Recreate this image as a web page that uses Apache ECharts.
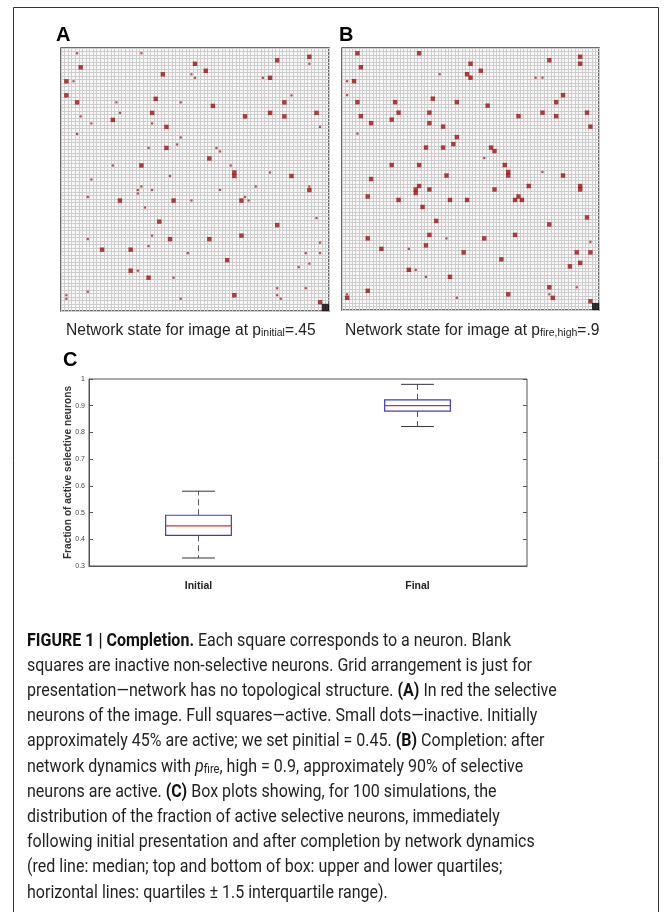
<!DOCTYPE html>
<html><head><meta charset="utf-8">
<script src="https://cdn.jsdelivr.net/npm/echarts@6/dist/echarts.min.js"></script>
<style>html,body{margin:0;padding:0;background:#fff}#c{width:671px;height:912px}</style>
</head><body><div id="c"></div>
<script>
// ---------------- DATA ----------------
const gridSize = 75; // cells per side in panels A and B
// Panel A (initial): [column, row] of selective neurons (row counted from top)
const activeA = [[5,5],[37,4],[40,6],[28,7],[60,3],[69,2],[58,8],[1,9],[1,13],[4,15],[26,14],[42,16],[62,15],[25,18],[14,20],[51,19],[58,18],[62,19],[71,18],[29,22],[29,28],[41,31],[22,33],[48,35],[48,36],[64,36],[69,40],[16,43],[31,43],[50,43],[27,49],[60,50],[50,53],[30,54],[41,54],[11,57],[19,57],[46,60],[19,63],[24,65],[48,70],[72,72]];
const inactiveA = [[4,1],[22,1],[69,4],[36,7],[37,8],[3,9],[56,8],[64,13],[15,15],[33,15],[16,18],[5,19],[8,21],[25,21],[72,22],[4,24],[33,25],[32,27],[24,28],[43,28],[44,29],[14,33],[47,33],[58,35],[30,36],[8,37],[54,39],[69,39],[22,39],[21,40],[25,40],[44,40],[21,41],[7,42],[51,42],[36,43],[52,43],[23,45],[71,48],[25,53],[7,54],[72,55],[24,56],[35,58],[68,58],[72,58],[69,61],[66,62],[21,63],[31,65],[60,68],[68,68],[7,69],[60,70],[61,71],[33,71],[1,70],[1,71]];
// Panel B (after completion)
const activeB = [[4,1],[22,1],[5,5],[37,4],[40,6],[36,7],[37,8],[60,3],[69,2],[69,4],[3,9],[4,15],[15,15],[26,14],[33,15],[42,16],[64,13],[62,15],[5,19],[16,18],[14,20],[25,18],[25,21],[8,21],[29,22],[33,25],[51,19],[58,18],[62,19],[71,18],[72,22],[32,27],[24,28],[29,28],[43,28],[44,29],[14,33],[22,33],[47,33],[48,35],[48,36],[30,36],[64,36],[8,37],[22,39],[21,40],[21,41],[25,40],[44,40],[54,39],[69,39],[69,40],[7,42],[16,43],[31,43],[36,43],[50,43],[51,42],[52,43],[23,45],[27,49],[60,50],[71,48],[25,53],[50,53],[7,54],[41,54],[11,57],[24,56],[35,58],[68,58],[72,58],[46,60],[69,61],[66,62],[19,63],[31,65],[60,68],[7,69],[48,70],[61,71],[1,71],[72,72]];
const inactiveB = [[28,7],[56,8],[58,8],[1,9],[1,13],[4,24],[41,31],[58,35],[30,54],[72,55],[19,57],[21,63],[24,65],[68,68],[60,70],[33,71],[1,70]];
// black corner marker (2x2 cells, lower-right)
const cornerCells = [[73,73]];
// Panel C box plot: [low whisker, Q1, median, Q3, high whisker]
const boxCategories = ['Initial', 'Final'];
const boxStats = [[0.33, 0.415, 0.45, 0.49, 0.58], [0.822, 0.88, 0.90, 0.922, 0.98]];
const boxYMin = 0.3, boxYMax = 1.0, boxYStep = 0.1;
const boxYName = 'Fraction of active selective neurons';

// ---------------- TEXT ----------------
const captionLines = [
  '{b|FIGURE 1 | Completion.}{n| Each square corresponds to a neuron. Blank}',
  '{n|squares are inactive non-selective neurons. Grid arrangement is just for}',
  '{n|presentation—network has no topological structure. }{b|(A)}{n| In red the selective}',
  '{n|neurons of the image. Full squares—active. Small dots—inactive. Initially}',
  '{n|approximately 45% are active; we set pinitial = 0.45. }{b|(B)}{n| Completion: after}',
  '{n|network dynamics with }{i|p}{s|fire}{n|, high = 0.9, approximately 90% of selective}',
  '{n|neurons are active. }{b|(C)}{n| Box plots showing, for 100 simulations, the}',
  '{n|distribution of the fraction of active selective neurons, immediately}',
  '{n|following initial presentation and after completion by network dynamics}',
  '{n|(red line: median; top and bottom of box: upper and lower quartiles;}',
  '{n|horizontal lines: quartiles ± 1.5 interquartile range).}'
];

// ---------------- CHART ----------------
const chart = echarts.init(document.getElementById('c'), null, {renderer: 'canvas'});
const cell = p => [p[0] + 0.5, p[1] + 0.5];
const corner = p => [p[0] + 1, p[1] + 1];

const capFont = 'Roboto';
const capSize = 18;
const capRich = {
  n: {fontFamily: capFont, fontSize: capSize, fill: '#231f20', lineHeight: 23, verticalAlign: 'bottom'},
  b: {fontFamily: capFont, fontSize: capSize, fontWeight: 'bold', fill: '#111', lineHeight: 23, verticalAlign: 'bottom'},
  i: {fontFamily: capFont, fontSize: capSize, fontStyle: 'italic', fill: '#231f20', lineHeight: 23, verticalAlign: 'bottom'},
  s: {fontFamily: capFont, fontSize: 12.5, fill: '#231f20', lineHeight: 12, verticalAlign: 'bottom'}
};
const subRich = {
  n: {fontFamily: 'Liberation Sans', fontSize: 15.6, fill: '#222', lineHeight: 20, verticalAlign: 'bottom'},
  s: {fontFamily: 'Liberation Sans', fontSize: 10.5, fill: '#222', lineHeight: 12, verticalAlign: 'bottom'}
};

const graphics = [
  {type: 'rect', shape: {x: 13.5, y: 7.5, width: 645, height: 920}, style: {fill: 'none', stroke: '#333', lineWidth: 1}, silent: true},
  {type: 'text', x: 56, y: 35, style: {text: 'A', fontFamily: 'Liberation Sans', fontWeight: 'bold', fontSize: 20, fill: '#000', verticalAlign: 'middle'}},
  {type: 'text', x: 339, y: 35, style: {text: 'B', fontFamily: 'Liberation Sans', fontWeight: 'bold', fontSize: 20, fill: '#000', verticalAlign: 'middle'}},
  {type: 'text', x: 63, y: 360, style: {text: 'C', fontFamily: 'Liberation Sans', fontWeight: 'bold', fontSize: 20, fill: '#000', verticalAlign: 'middle'}},
  {type: 'text', x: 66, y: 319, style: {text: '{n|Network state for image at p}{s|initial}{n|=.45}', rich: subRich}},
  {type: 'text', x: 345, y: 319, style: {text: '{n|Network state for image at p}{s|fire,high}{n|=.9}', rich: subRich}}
];
captionLines.forEach((t, k) => {
  graphics.push({type: 'text', x: 27, y: 627 + k * 25.2, scaleX: 0.89,
    style: {text: t, rich: capRich}});
});

const gridAxis = (gi) => ({
  gridIndex: gi, type: 'value', min: 0, max: gridSize, interval: 1,
  axisLine: {show: false}, axisTick: {show: false}, axisLabel: {show: false},
  splitLine: {show: true, lineStyle: {color: '#cdcdcd', width: 1}}
});

const option = {
  animation: false,
  backgroundColor: '#fff',
  graphic: graphics,
  grid: [
    {left: 61, top: 48, width: 268, height: 263, show: true, backgroundColor: '#f8f8f8', borderColor: '#3a3a3a', borderWidth: 1.5},
    {left: 342, top: 48, width: 257, height: 262, show: true, backgroundColor: '#f8f8f8', borderColor: '#3a3a3a', borderWidth: 1.5},
    {left: 89, top: 379, width: 438, height: 187, show: true, borderColor: '#555', borderWidth: 1}
  ],
  xAxis: [
    gridAxis(0), gridAxis(1),
    {gridIndex: 2, type: 'category', data: boxCategories,
      axisLine: {show: true, lineStyle: {color: '#555'}}, axisTick: {show: false},
      axisLabel: {fontFamily: 'Liberation Sans', fontWeight: 'bold', fontSize: 10.5, color: '#222', margin: 15}}
  ],
  yAxis: [
    Object.assign(gridAxis(0), {inverse: true}),
    Object.assign(gridAxis(1), {inverse: true}),
    {gridIndex: 2, type: 'value', min: boxYMin, max: boxYMax, interval: boxYStep,
      name: boxYName, nameLocation: 'middle', nameGap: 16, nameRotate: 90, nameMoveOverlap: false,
      nameTextStyle: {fontFamily: 'Liberation Sans', fontWeight: 'bold', fontSize: 10.2, color: '#333'},
      axisLine: {show: true, lineStyle: {color: '#555'}},
      axisTick: {show: true, inside: true, length: 4, lineStyle: {color: '#555'}},
      axisLabel: {fontFamily: 'Liberation Sans', fontSize: 7, color: '#444', margin: 4},
      splitLine: {show: false}},
    {gridIndex: 2, type: 'value', position: 'right', min: boxYMin, max: boxYMax, interval: boxYStep,
      axisLine: {show: false}, axisTick: {show: true, inside: true, length: 4, lineStyle: {color: '#555'}},
      axisLabel: {show: false}, splitLine: {show: false}}
  ],
  series: [
    {type: 'scatter', xAxisIndex: 0, yAxisIndex: 0, data: activeA.map(cell), symbol: 'rect', symbolSize: 4.4, itemStyle: {color: '#a50d0d'}},
    {type: 'scatter', xAxisIndex: 0, yAxisIndex: 0, data: inactiveA.map(cell), symbol: 'rect', symbolSize: 2.2, itemStyle: {color: '#b02020'}},
    {type: 'scatter', xAxisIndex: 0, yAxisIndex: 0, data: cornerCells.map(corner), symbol: 'rect', symbolSize: 7.4, itemStyle: {color: '#000'}},
    {type: 'scatter', xAxisIndex: 1, yAxisIndex: 1, data: activeB.map(cell), symbol: 'rect', symbolSize: 4.4, itemStyle: {color: '#a50d0d'}},
    {type: 'scatter', xAxisIndex: 1, yAxisIndex: 1, data: inactiveB.map(cell), symbol: 'rect', symbolSize: 2.2, itemStyle: {color: '#b02020'}},
    {type: 'scatter', xAxisIndex: 1, yAxisIndex: 1, data: cornerCells.map(corner), symbol: 'rect', symbolSize: 7.2, itemStyle: {color: '#000'}},
    {type: 'custom', xAxisIndex: 2, yAxisIndex: 2,
      data: boxStats.map((s, i) => [i].concat(s)),
      renderItem: function (params, api) {
        const i = api.value(0);
        const band = api.size([1, 0])[0];
        const bw = band * 0.30, cw = band * 0.15;
        const pLo = api.coord([i, api.value(1)]);
        const pQ1 = api.coord([i, api.value(2)]);
        const pMd = api.coord([i, api.value(3)]);
        const pQ3 = api.coord([i, api.value(4)]);
        const pHi = api.coord([i, api.value(5)]);
        const x = pMd[0];
        const dash = {stroke: '#555', lineWidth: 1, lineDash: [6, 4]};
        const solid = {stroke: '#333', lineWidth: 1};
        return {type: 'group', children: [
          {type: 'line', shape: {x1: x, y1: pQ3[1], x2: x, y2: pHi[1]}, style: dash},
          {type: 'line', shape: {x1: x, y1: pQ1[1], x2: x, y2: pLo[1]}, style: dash},
          {type: 'line', shape: {x1: x - cw / 2, y1: pHi[1], x2: x + cw / 2, y2: pHi[1]}, style: solid},
          {type: 'line', shape: {x1: x - cw / 2, y1: pLo[1], x2: x + cw / 2, y2: pLo[1]}, style: solid},
          {type: 'rect', shape: {x: x - bw / 2, y: pQ3[1], width: bw, height: pQ1[1] - pQ3[1]}, style: {fill: '#fff', stroke: '#3d3dc4', lineWidth: 1.2}},
          {type: 'line', shape: {x1: x - bw / 2, y1: pMd[1], x2: x + bw / 2, y2: pMd[1]}, style: {stroke: '#c23b3b', lineWidth: 1.3}}
        ]};
      }
    }
  ]
};
chart.setOption(option);
</script></body></html>
